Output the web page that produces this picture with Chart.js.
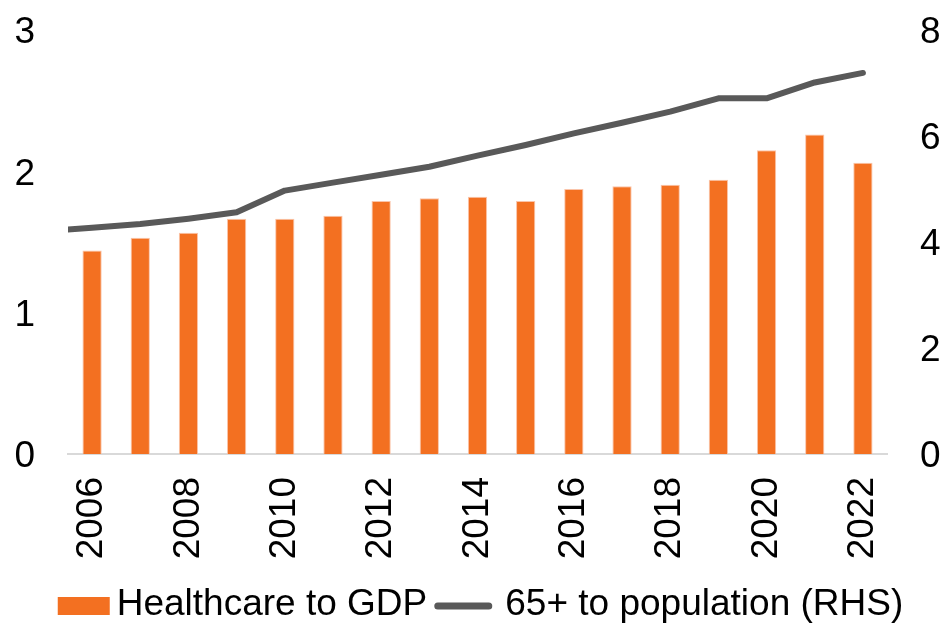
<!DOCTYPE html>
<html>
<head>
<meta charset="utf-8">
<title>Healthcare spending and ageing population</title>
<script src="https://cdn.jsdelivr.net/npm/chart.js@4.4.1/dist/chart.umd.min.js"></script>
<style>
  html, body { margin: 0; padding: 0; background: #ffffff; }
  #wrap { width: 940px; height: 624px; }
</style>
</head>
<body>
<div id="wrap"><canvas id="chart" width="940" height="624"></canvas></div>
<script>
// Years on the category axis (bars)
const years = ['2006','2007','2008','2009','2010','2011','2012','2013','2014','2015','2016','2017','2018','2019','2020','2021','2022'];

// Healthcare spending as % of GDP (left axis)
const healthcareToGdp = [1.44, 1.53, 1.565, 1.665, 1.665, 1.685, 1.79, 1.81, 1.82, 1.79, 1.875, 1.895, 1.905, 1.94, 2.15, 2.26, 2.06];

// Share of population aged 65+ (right axis); series begins one year earlier
const popYears = [2005, 2006, 2007, 2008, 2009, 2010, 2011, 2012, 2013, 2014, 2015, 2016, 2017, 2018, 2019, 2020, 2021, 2022];
const pop65Share = [4.20, 4.27, 4.34, 4.44, 4.56, 4.97, 5.12, 5.27, 5.42, 5.63, 5.83, 6.05, 6.25, 6.46, 6.71, 6.71, 7.01, 7.19];

// Axis ranges and tick steps
const leftTicks = { min: 0, max: 3, step: 1 };
const rightTicks = { min: 0, max: 8, step: 2 };

const seriesLabels = ['Healthcare to GDP', '65+ to population (RHS)'];

const ORANGE = '#F37021';
const GREY = '#595959';
const FONT_FAMILY = '"Liberation Sans", Arial, sans-serif';
const FONT_SIZE = 37;

// Legend drawn under the axis labels: filled box for bars, short stroke for the line
const bottomLegend = {
  id: 'bottomLegend',
  afterDraw(chart) {
    const ctx = chart.ctx;
    const area = chart.chartArea;
    const barDs = chart.data.datasets.find(d => d.type === 'bar');
    const lineDs = chart.data.datasets.find(d => d.type === 'line');
    ctx.save();
    ctx.font = FONT_SIZE + 'px ' + FONT_FAMILY;
    ctx.textBaseline = 'middle';
    ctx.textAlign = 'left';
    const t1 = ctx.measureText(barDs.label).width;
    const t2 = ctx.measureText(lineDs.label).width;
    const boxW = 52, boxH = 18, lineW = 58;
    const total = boxW + 7 + t1 + 7 + lineW + 13 + t2;
    let x = (area.left + area.right) / 2 - total / 2 + 3;
    const cy = 605;

    ctx.fillStyle = barDs.backgroundColor;
    ctx.fillRect(x, cy - boxH / 2 + 1, boxW, boxH);
    x += boxW + 7;
    ctx.fillStyle = '#000000';
    ctx.fillText(barDs.label, x, cy);
    x += t1 + 7;

    ctx.strokeStyle = lineDs.borderColor;
    ctx.lineWidth = 7;
    ctx.lineCap = 'round';
    ctx.beginPath();
    ctx.moveTo(x + 3.5, cy + 1);
    ctx.lineTo(x + lineW - 3.5, cy + 1);
    ctx.stroke();
    x += lineW + 13;
    ctx.fillText(lineDs.label, x, cy);
    ctx.restore();
  }
};

// Fixed side-axis widths; no extra top/bottom padding from the tick labels
const fitSide = (width) => (scale) => {
  scale.width = width;
  scale.paddingTop = 0;
  scale.paddingBottom = 0;
};

new Chart(document.getElementById('chart'), {
  data: {
    labels: years,
    datasets: [
      {
        type: 'bar',
        label: seriesLabels[0],
        data: healthcareToGdp,
        xAxisID: 'x',
        yAxisID: 'y',
        backgroundColor: ORANGE,
        borderColor: 'rgba(250, 190, 160, 0.9)',
        borderWidth: { top: 1, left: 1, right: 1, bottom: 0 },
        grouped: false,
        categoryPercentage: 1,
        barPercentage: 0.4,
        order: 1
      },
      {
        type: 'line',
        label: seriesLabels[1],
        data: popYears.map((yr, i) => ({ x: yr, y: pop65Share[i] })),
        xAxisID: 'x2',
        yAxisID: 'y2',
        borderColor: GREY,
        borderWidth: 6,
        borderCapStyle: 'round',
        borderJoinStyle: 'round',
        pointRadius: 0,
        tension: 0,
        fill: false,
        clip: 0,
        order: 0
      }
    ]
  },
  options: {
    responsive: false,
    animation: false,
    layout: { padding: { top: 30, bottom: 60, left: 0, right: 0 } },
    plugins: {
      legend: { display: false },
      tooltip: { enabled: false }
    },
    scales: {
      x: {
        type: 'category',
        offset: true,
        grid: { display: false, drawTicks: false },
        border: { display: true, color: '#d9d9d9', width: 2 },
        ticks: {
          autoSkip: false,
          minRotation: 90,
          maxRotation: 90,
          padding: 23,
          color: '#000000',
          font: { family: FONT_FAMILY, size: FONT_SIZE },
          callback: function (value, index) {
            return index % 2 === 0 ? this.getLabelForValue(value) : '';
          }
        },
        afterFit: (scale) => { scale.height = 110; }
      },
      x2: {
        type: 'linear',
        display: false,
        min: 2005.5,
        max: 2022.5
      },
      y: {
        type: 'linear',
        position: 'left',
        min: leftTicks.min,
        max: leftTicks.max,
        grid: { display: false, drawTicks: false },
        border: { display: false },
        ticks: {
          stepSize: leftTicks.step,
          padding: 33,
          labelOffset: 3,
          color: '#000000',
          font: { family: FONT_FAMILY, size: FONT_SIZE }
        },
        afterFit: fitSide(68)
      },
      y2: {
        type: 'linear',
        position: 'right',
        min: rightTicks.min,
        max: rightTicks.max,
        grid: { display: false, drawTicks: false },
        border: { display: false },
        ticks: {
          stepSize: rightTicks.step,
          padding: 33,
          labelOffset: 3,
          color: '#000000',
          font: { family: FONT_FAMILY, size: FONT_SIZE }
        },
        afterFit: fitSide(53)
      }
    }
  },
  plugins: [bottomLegend]
});
</script>
</body>
</html>
